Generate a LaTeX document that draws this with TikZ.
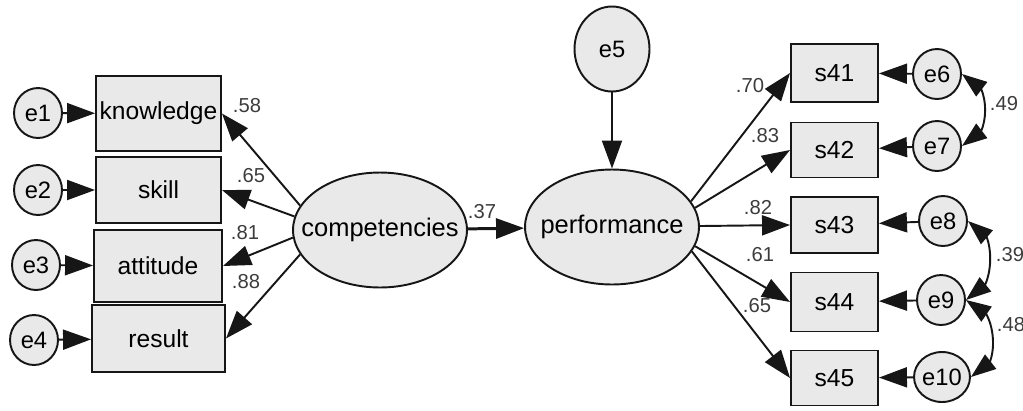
\documentclass[tikz,border=0pt]{standalone}
\usepackage{fontspec}
\setmainfont{Liberation Sans}
\usetikzlibrary{arrows.meta, bending, shapes.geometric}
\definecolor{semfill}{HTML}{E9E9E9}
\definecolor{semline}{HTML}{161616}
\definecolor{semtext}{HTML}{3C3C3C}
\tikzset{
  >={Triangle[length=5.6mm,width=4mm]},
  obs/.style={
    rectangle, draw=semline, fill=semfill, line width=1.1pt,
    inner sep=0pt, font=\fontsize{14}{16}\selectfont
  },
  latent/.style={
    ellipse, draw=semline, fill=semfill, line width=1.1pt,
    inner xsep=-0.35cm, inner ysep=0pt,
    minimum width=3.48cm, minimum height=2.3cm, font=\fontsize{14.5}{16}\selectfont
  },
  err/.style={
    ellipse, draw=semline, fill=semfill, line width=1.1pt, inner sep=0pt,
    minimum width=#1, minimum height=1.0cm, font=\fontsize{13.5}{15}\selectfont
  },
  err/.default=0.96cm,
  pathto/.style={->, draw=semline, line width=1.1pt},
  cov/.style={{Triangle[length=5mm,width=3.6mm]}-{Triangle[length=5mm,width=3.6mm]},
    draw=semline, line width=1.1pt},
  coef/.style={font=\fontsize{11.5}{13}\selectfont, text=semtext, inner sep=0pt}
}
\begin{document}
\begin{tikzpicture}[x=0.02cm, y=0.02cm]
  \useasboundingbox (0,0) rectangle (1023,-410);

  \node[obs, minimum width=2.5cm, minimum height=1.5cm] (know) at (158.5,-113.5) {knowledge};
  \node[obs, minimum width=2.5cm, minimum height=1.32cm] (skill) at (158.5,-190) {skill};
  \node[obs, minimum width=2.56cm, minimum height=1.44cm] (att) at (158,-266) {attitude};
  \node[obs, minimum width=2.66cm, minimum height=1.34cm] (res) at (158.5,-338.5) {result};
  \node[err] (e1) at (38,-113) {e1};
  \node[err] (e2) at (38,-190) {e2};
  \node[err] (e3) at (36,-265) {e3};
  \node[err] (e4) at (34,-340) {e4};
  \draw[pathto] (e1) -- (know); \draw[pathto] (e2) -- (skill);
  \draw[pathto] (e3) -- (att); \draw[pathto] (e4) -- (res);

  \node[latent] (comp) at (380,-230) {competencies};
  \node[latent] (perf) at (612,-227) {performance};
  \node[err=1.5cm, minimum height=1.7cm] (e5) at (612,-49) {e5};
  \draw[pathto] (comp.163) -- (know.east); \draw[pathto] (comp.171) -- (skill.east);
  \draw[pathto] (comp.185) -- (att.east); \draw[pathto] (comp.197) -- (res.east);
  \draw[pathto, line width=1.7pt] (comp) -- (perf);
  \draw[pathto] (e5) -- (perf);

  \node[obs, minimum width=1.74cm, minimum height=1.16cm] (s41) at (834.5,-73) {s41};
  \node[obs, minimum width=1.74cm, minimum height=1.1cm] (s42) at (834.5,-150) {s42};
  \node[obs, minimum width=1.74cm, minimum height=1.12cm] (s43) at (834.5,-225) {s43};
  \node[obs, minimum width=1.74cm, minimum height=1.18cm] (s44) at (834.5,-302) {s44};
  \node[obs, minimum width=1.74cm, minimum height=1.1cm] (s45) at (834.5,-378) {s45};
  \node[err] (e6) at (937,-74) {e6};
  \node[err] (e7) at (937,-146) {e7};
  \node[err] (e8) at (943,-221) {e8};
  \node[err] (e9) at (941,-300) {e9};
  \node[err] (e10) at (942,-377) {e10};
  \draw[pathto] (perf.18) -- (s41.west); \draw[pathto] (perf.13) -- (s42.west);
  \draw[pathto] (perf) -- (s43.west); \draw[pathto] (perf.-13) -- (s44.west);
  \draw[pathto] (perf.-17) -- (s45.west);
  \draw[pathto] (e6) -- (s41); \draw[pathto] (e7) -- (s42); \draw[pathto] (e8) -- (s43);
  \draw[pathto] (e9) -- (s44); \draw[pathto] (e10) -- (s45);
  \draw[cov] (e6.east) to[out=0, in=0, looseness=1.1] (e7.east);
  \draw[cov] (e8.east) to[out=0, in=0, looseness=1.0] (e9.east);
  \draw[cov] (e9.east) to[out=0, in=0, looseness=1.08] (e10.east);

  \node[coef] (c58) at (247,-106) {.58};
  \node[coef] (c65) at (251,-176) {.65};
  \node[coef] (c81) at (245,-233) {.81};
  \node[coef] (c88) at (246,-282) {.88};
  \node[coef] (c37) at (482,-212) {.37};
  \node[coef] (c70) at (750,-86) {.70};
  \node[coef] (c83) at (765,-136) {.83};
  \node[coef] (c82) at (758,-208) {.82};
  \node[coef] (c61) at (760,-255) {.61};
  \node[coef] (c65b) at (757,-306) {.65};
  \node[coef] (c49) at (1004,-104) {.49};
  \node[coef] (c39) at (1010,-255) {.39};
  \node[coef] (c48) at (1011,-325) {.48};
\end{tikzpicture}
\end{document}
